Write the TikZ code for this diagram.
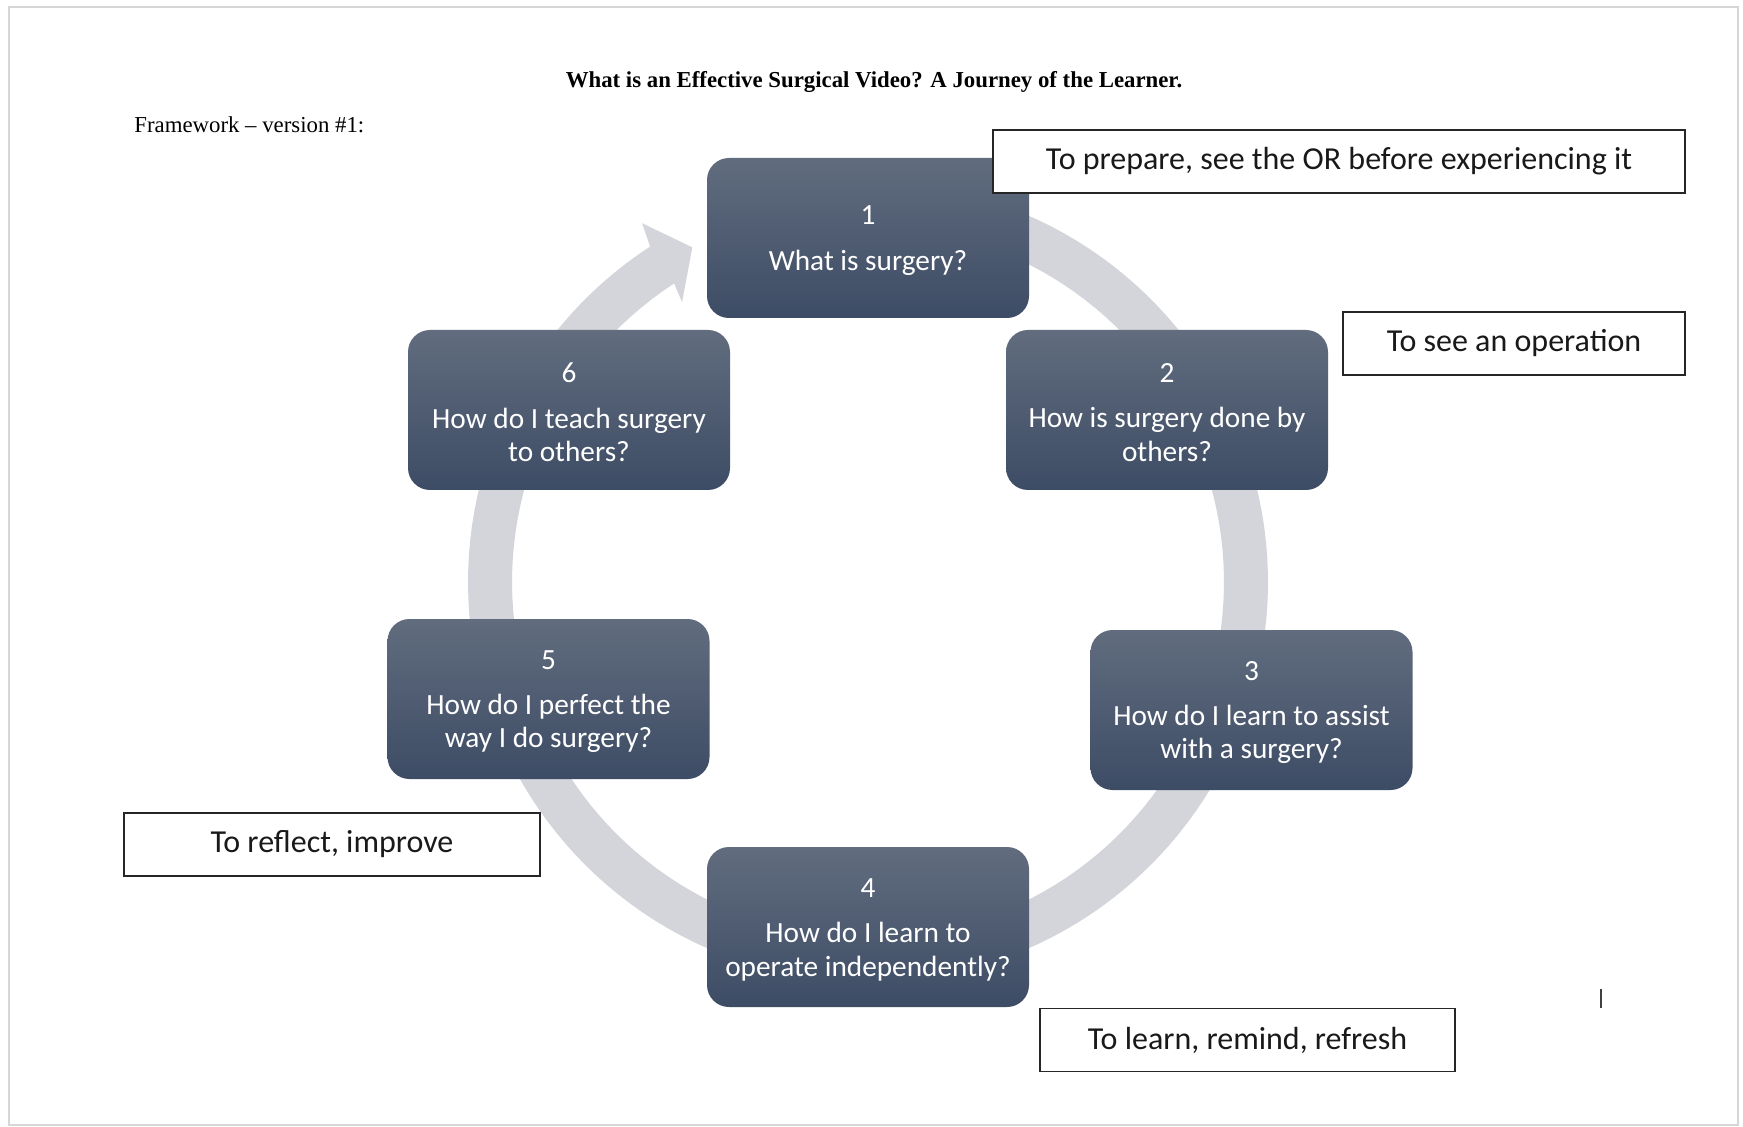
\documentclass[tikz,border=0pt]{standalone}
\usepackage{fontspec}
\setmainfont{Liberation Serif}
\newfontfamily\calfont{Carlito}
\definecolor{ringgrey}{RGB}{211,213,218}
\definecolor{qtop}{RGB}{97,108,126}
\definecolor{qbot}{RGB}{61,76,101}
\definecolor{framegrey}{RGB}{214,214,214}
\begin{document}
\begin{tikzpicture}[x=0.5pt,y=-0.5pt,
  qbox/.style={rectangle, rounded corners=11pt, minimum width=161pt, minimum height=80pt,
    top color=qtop, bottom color=qbot, draw=none, inner sep=0pt},
  qtext/.style={text=white, align=center, yshift=-1.3pt,
    font=\calfont\fontsize{14.65}{16.7}\selectfont, inner sep=0pt},
  notebox/.style={rectangle, draw=black!85, line width=0.6pt, fill=white, minimum height=31.5pt,
    text=black!90, font=\calfont\fontsize{16}{19}\selectfont, inner sep=0pt}]
\useasboundingbox (0,0) rectangle (1743,1127);
\fill[white] (0,0) rectangle (1743,1127);
\draw[framegrey, line width=1.2pt] (9,7) rectangle (1738,1125);
% ring with arrow
\fill[ringgrey] plot[domain=-80:237,samples=150] ({868+400*cos(\x)},{582+400*sin(\x)})
  -- ({868+424*cos(237.8)},{582+424*sin(237.8)})
  -- ({868+378*cos(242.3)},{582+378*sin(242.3)})
  -- ({868+336*cos(236.4)},{582+336*sin(236.4)})
  -- plot[domain=237:-80,samples=150] ({868+356*cos(\x)},{582+356*sin(\x)}) -- cycle;
% title
\node[font=\bfseries\fontsize{11.4}{13}\selectfont, anchor=base, inner sep=0pt] (title) at (874,88)
  {What is an Effective Surgical Video? A Journey of the Learner.};
\node[font=\fontsize{11.4}{13}\selectfont, anchor=base west, inner sep=0pt] (fw) at (134,133)
  {Framework -- version \#1:};
% boxes
\node[qbox] (b1) at (868,238) {};
\node[qbox] (b2) at (1167,410) {};
\node[qbox] (b3) at (1251.5,710) {};
\node[qbox] (b4) at (868,927) {};
\node[qbox] (b5) at (548.5,699) {};
\node[qbox] (b6) at (569,410) {};
\node[qtext] (t1) at (b1.center) {1\\[6pt]What is surgery?};
\node[qtext] (t2) at (b2.center) {2\\[6pt]How is surgery done by\\others?};
\node[qtext] (t3) at (b3.center) {3\\[6pt]How do I learn to assist\\with a surgery?};
\node[qtext] (t4) at (b4.center) {4\\[6pt]How do I learn to\\operate independently?};
\node[qtext] (t5) at (b5.center) {5\\[6pt]How do I perfect the\\way I do surgery?};
\node[qtext] (t6) at (b6.center) {6\\[6pt]How do I teach surgery\\to others?};
% notes
\node[notebox, minimum width=346pt] (nA) at (1339,161.5) {To prepare, see the OR before experiencing it};
\node[notebox, minimum width=171pt] (nB) at (1514,343.5) {To see an operation};
\node[notebox, minimum width=208pt] (nC) at (332,844.5) {To reflect, improve};
\node[notebox, minimum width=207.5pt] (nD) at (1247.5,1040) {To learn, remind, refresh};
% text cursor
\draw[black!75, line width=1pt] (1601,989) -- (1601,1008);
\end{tikzpicture}
\end{document}
